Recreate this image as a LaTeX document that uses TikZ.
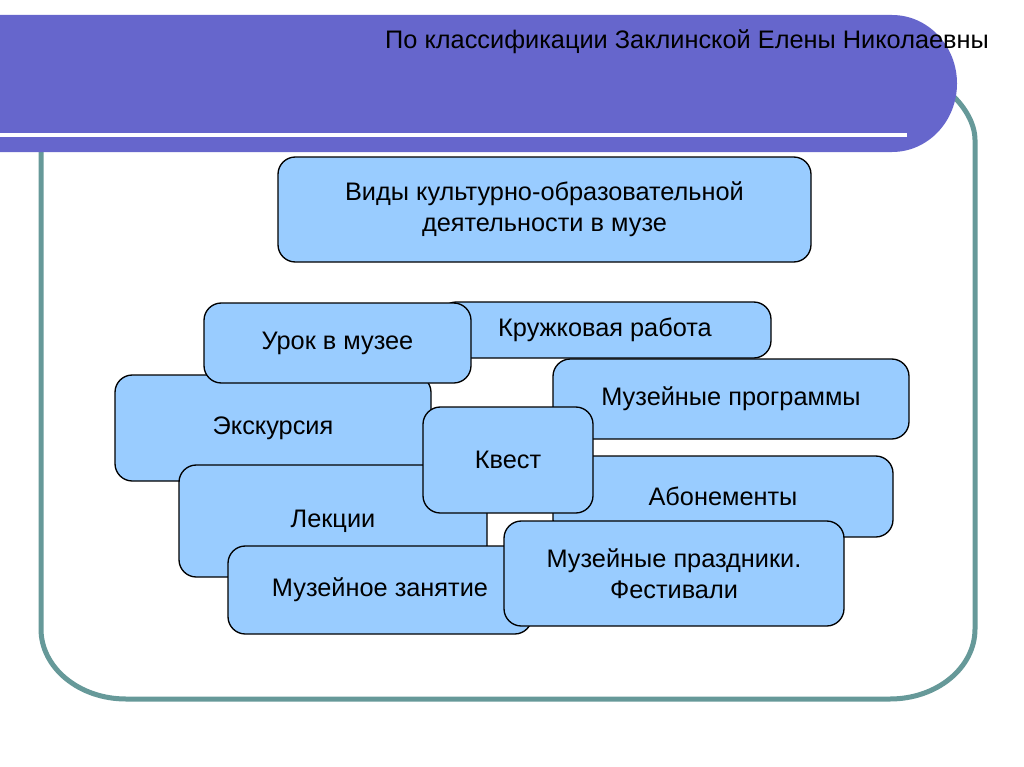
\documentclass[tikz,border=0pt]{standalone}
\usepackage{fontspec}
\setmainfont{Liberation Sans}
\definecolor{barblue}{RGB}{102,102,204}
\definecolor{boxblue}{RGB}{153,204,255}
\definecolor{frameteal}{RGB}{102,153,153}
\newcommand\boxfont{\fontsize{19pt}{23.25pt}\selectfont}
\newcommand\headfont{\fontsize{19pt}{23pt}\selectfont}
\tikzset{
  box/.style={draw=black, line width=1pt, fill=boxblue, rounded corners=13pt,
    align=center, inner sep=0pt, font=\boxfont},
}
\begin{document}
\begin{tikzpicture}[x=0.75pt, y=-0.75pt]
\useasboundingbox (0,0) rectangle (1024,767);
\fill[white] (0,0) rectangle (1024,767);
% outer frame
\draw[frameteal, line width=3.75pt]
  (126,70) -- (890,70) .. controls (937,70) and (975,108.7) .. (975,140)
  -- (975,629) .. controls (975,667.7) and (937,699) .. (890,699)
  -- (126,699) .. controls (79,699) and (41,667.7) .. (41,629)
  -- (41,140) .. controls (41,108.7) and (79,70) .. (126,70) -- cycle;
% header bar
\fill[barblue] (0,15) -- (892,15) .. controls (928,15) and (957,45.7) .. (957,83.5)
  .. controls (957,121.3) and (928,152) .. (892,152) -- (0,152) -- cycle;
\fill[white] (0,133) rectangle (907,137);
\node[font=\headfont, inner sep=0pt] (head) at (687,42) {По классификации Заклинской Елены Николаевны};
% boxes
\node[box, minimum width=399.75pt, minimum height=78.75pt] (title) at (544.5,209.5)
  {Виды культурно-образовательной\\деятельности в музе};
\node[box, minimum width=237pt, minimum height=79.5pt] (eks) at (273,428) {Экскурсия};
\node[box, minimum width=249pt, minimum height=42pt] (krug) at (605,330) {Кружковая работа};
\node[box, minimum width=200.25pt, minimum height=60pt] (urok) at (337.5,343) {Урок в музее};
\node[box, minimum width=231pt, minimum height=84pt] (lek) at (333,521) {Лекции};
\node[box, minimum width=267pt, minimum height=60pt] (prog) at (731,399) {Музейные программы};
\node[box, minimum width=255pt, minimum height=60.75pt] (abon) at (723,496.5) {Абонементы};
\node[box, minimum width=127.5pt, minimum height=79.5pt] (kvest) at (508,460) {Квест};
\node[box, minimum width=228pt, minimum height=66pt] (zan) at (380,590) {Музейное занятие};
\node[box, minimum width=255pt, minimum height=78.75pt] (fest) at (674,573.5)
  {Музейные праздники.\\Фестивали};
\end{tikzpicture}
\end{document}
